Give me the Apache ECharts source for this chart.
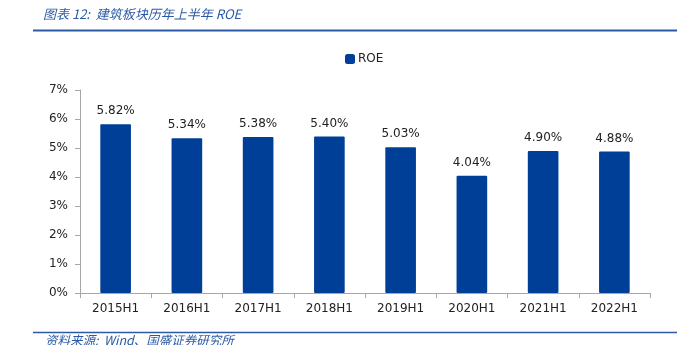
<!DOCTYPE html>
<html>
<head>
<meta charset="utf-8">
<script src="https://cdn.jsdelivr.net/npm/echarts@6/dist/echarts.min.js"></script>
<style>
html,body{margin:0;padding:0;background:#fff;}
#c{width:693px;height:345px;}
</style>
</head>
<body>
<div id="c"></div>
<script>
var categories = ['2015H1','2016H1','2017H1','2018H1','2019H1','2020H1','2021H1','2022H1'];
var roeValues = [5.82, 5.34, 5.38, 5.40, 5.03, 4.04, 4.90, 4.88];
var yTicks = [0, 1, 2, 3, 4, 5, 6, 7];
var seriesName = 'ROE';
var titleText = '图表 12:  建筑板块历年上半年 ROE';
var sourceText = '资料来源:  Wind、国盛证券研究所';

var chart = echarts.init(document.getElementById('c'));
var font = 'DejaVu Sans';
chart.setOption({
  animation: false,
  backgroundColor: '#fff',
  textStyle: { fontFamily: font },
  graphic: [
    { type: 'text', left: 43, top: 8, style: { text: titleText, fontFamily: 'Noto Sans CJK SC', fontStyle: 'italic', fontSize: 13, fill: '#2b5aa6' } },
    { type: 'line', shape: { x1: 33, y1: 30.5, x2: 677, y2: 30.5 }, style: { stroke: '#2b5aa6', lineWidth: 2 } },
    { type: 'line', shape: { x1: 33, y1: 332.5, x2: 677, y2: 332.5 }, style: { stroke: '#2b5aa6', lineWidth: 1.5 } },
    { type: 'text', left: 45, top: 334, style: { text: sourceText, fontFamily: 'Noto Sans CJK SC', fontStyle: 'italic', fontSize: 12.5, fill: '#2b5aa6' } }
  ],
  legend: {
    top: 48, left: 340,
    itemWidth: 10, itemHeight: 10, itemGap: 4,
    icon: 'roundRect',
    textStyle: { fontFamily: font, fontSize: 12, color: '#222', padding: [0,0,0,-2] },
    data: [seriesName]
  },
  grid: { left: 80, right: 43, top: 90, bottom: 52, containLabel: false },
  xAxis: {
    type: 'category',
    data: categories,
    axisLine: { lineStyle: { color: '#a6a6a6' } },
    axisTick: { show: true, alignWithLabel: false, length: 5, lineStyle: { color: '#a6a6a6' } },
    axisLabel: { fontFamily: font, fontSize: 12, color: '#222', margin: 10 }
  },
  yAxis: {
    type: 'value',
    min: yTicks[0], max: yTicks[yTicks.length - 1], interval: 1,
    axisLine: { show: true, lineStyle: { color: '#a6a6a6' } },
    axisTick: { show: true, length: 5, lineStyle: { color: '#a6a6a6' } },
    splitLine: { show: false },
    axisLabel: { fontFamily: font, fontSize: 12, color: '#222', margin: 12, formatter: '{value}%' }
  },
  series: [{
    name: seriesName,
    type: 'bar',
    data: roeValues,
    barWidth: '43%',
    itemStyle: { color: '#003f98', borderRadius: 1 },
    label: {
      show: true, position: 'top', distance: 7,
      fontFamily: font, fontSize: 12, color: '#222',
      formatter: function (p) { return p.value.toFixed(2) + '%'; }
    }
  }]
});
</script>
</body>
</html>
